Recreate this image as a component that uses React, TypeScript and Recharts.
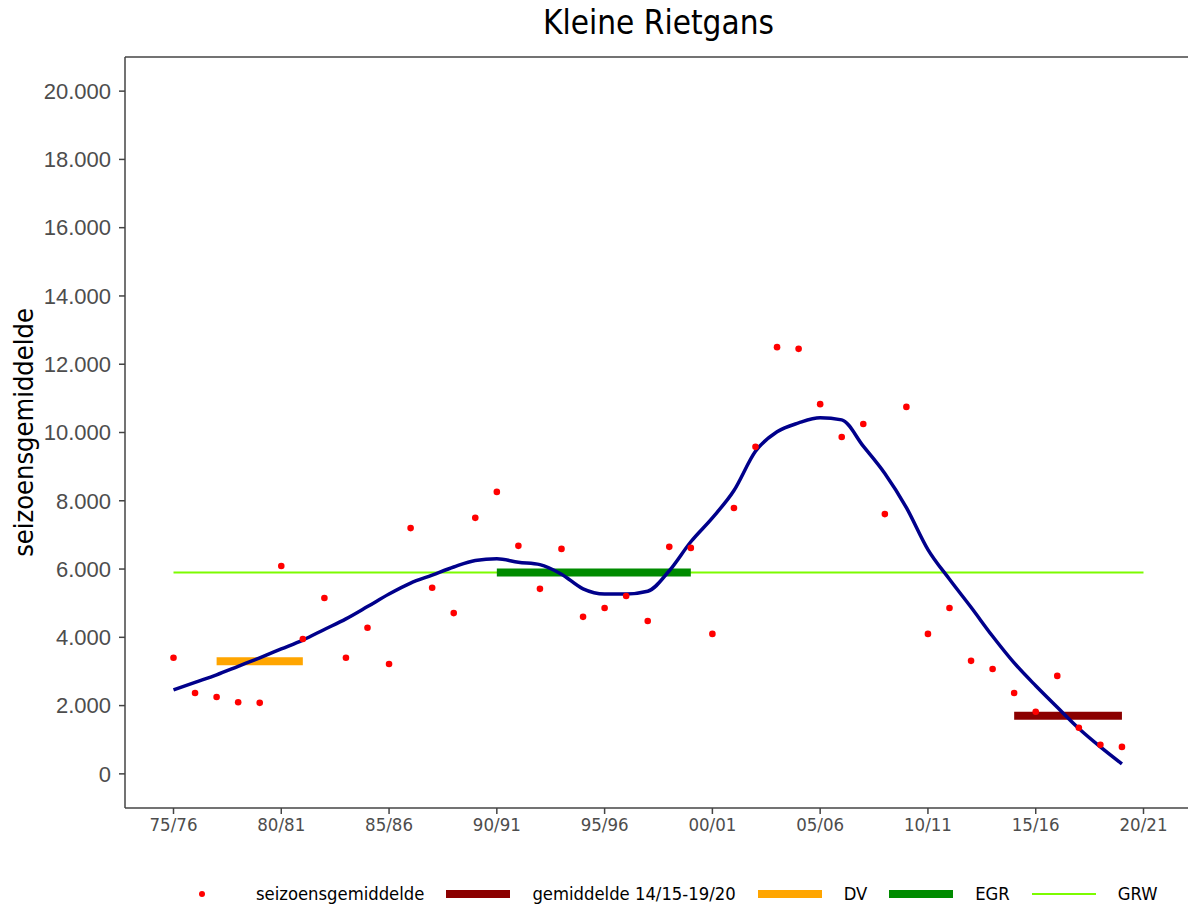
import React from "react"
import {
  ComposedChart,
  Line,
  Scatter,
  XAxis,
  YAxis,
  ReferenceLine,
} from "recharts"

// season index 0 = 75/76 ... 44 = 19/20
const seasonAvg = [
  3400, 2370, 2250, 2100, 2080, 6090, 3950, 5150, 3400, 4280,
  3220, 7200, 5450, 4710, 7500, 8260, 6680, 5420, 6590, 4600,
  4860, 5210, 4480, 6650, 6620, 4100, 7790, 9580, 12500, 12450,
  10830, 9870, 10250, 7610, 10750, 4100, 4860, 3310, 3070, 2370,
  1820, 2870, 1350, 850, 790,
]

const smoothTrend = [
  2460, 2680, 2900, 3150, 3400, 3660, 3920, 4230, 4540, 4900,
  5270, 5590, 5820, 6060, 6250, 6300, 6200, 6130, 5850, 5420,
  5270, 5270, 5350, 5950, 6800, 7500, 8300, 9450, 10020, 10280,
  10430, 10370, 9600, 8800, 7800, 6570, 5700, 4880, 4030, 3250,
  2580, 1950, 1330, 790, 290,
]

const xTickPos = [0, 5, 10, 15, 20, 25, 30, 35, 40, 45]
const xTickLabels = ["75/76", "80/81", "85/86", "90/91", "95/96", "00/01", "05/06", "10/11", "15/16", "20/21"]
const yTicks = [0, 2000, 4000, 6000, 8000, 10000, 12000, 14000, 16000, 18000, 20000]

// horizontal reference segments: [startIndex, endIndex, value]
const gemSegment = [39, 44, 1700]
const dvSegment = [2, 6, 3300]
const egrSegment = [15, 24, 5900]
const grwSegment = [0, 45, 5900]

const COLORS = {
  points: "#FF0000",
  trend: "#00008B",
  gem: "#8B0000",
  dv: "#FFA500",
  egr: "#008B00",
  grw: "#7CFC00",
}

const legendItems = [
  { label: "seizoensgemiddelde", color: COLORS.points, kind: "dot" },
  { label: "gemiddelde 14/15-19/20", color: COLORS.gem, kind: "bar" },
  { label: "DV", color: COLORS.dv, kind: "bar" },
  { label: "EGR", color: COLORS.egr, kind: "bar" },
  { label: "GRW", color: COLORS.grw, kind: "thin" },
]

const pointData = seasonAvg.map((y, i) => ({ x: i, y }))
const trendData = smoothTrend.map((y, i) => ({ x: i, y }))
const seg = (s: number[]) => [
  { x: s[0], y: s[2] },
  { x: s[1], y: s[2] },
]

const fmtThousands = (v: number) =>
  v === 0 ? "0" : `${Math.floor(v / 1000)}.${String(v % 1000).padStart(3, "0")}`

const condensed = "'DejaVu Sans Condensed', 'Liberation Sans Narrow', 'DejaVu Sans', sans-serif"

function YLabel(props: any) {
  const vb = props.viewBox || { x: 0, y: 57, width: 125, height: 751 }
  const cx = 23
  const cy = vb.y + vb.height / 2
  return (
    <text
      x={cx}
      y={cy}
      transform={`rotate(-90 ${cx} ${cy})`}
      textAnchor="middle"
      dominantBaseline="central"
      fontFamily={condensed}
      fontSize={27}
      fill="#000"
    >
      seizoensgemiddelde
    </text>
  )
}

function Dot(props: any) {
  const { cx, cy } = props
  if (cx == null || cy == null) return null
  return <circle cx={cx} cy={cy} r={3.3} fill={COLORS.points} />
}

export default function App() {
  return (
    <div
      style={{
        position: "absolute",
        left: 0,
        top: 0,
        width: 1188,
        height: 906,
        overflow: "hidden",
        background: "#fff",
      }}
    >
      <div
        style={{
          position: "absolute",
          left: 125,
          width: 1067,
          top: 3,
          textAlign: "center",
          fontFamily: condensed,
          fontSize: 33,
          color: "#000",
          lineHeight: "40px",
        }}
      >
        Kleine Rietgans
      </div>

      <ComposedChart width={1192} height={906} margin={{ top: 57, right: 0, bottom: 0, left: 0 }}>
        <XAxis
          dataKey="x"
          type="number"
          domain={[-2.25, 47.25]}
          allowDataOverflow
          ticks={xTickPos}
          tickFormatter={(v: number) => xTickLabels[xTickPos.indexOf(v)] ?? ""}
          height={98}
          tickSize={6}
          tickMargin={4}
          axisLine={{ stroke: "#444", strokeWidth: 1.5 }}
          tickLine={{ stroke: "#444", strokeWidth: 1.5 }}
          tick={{ fill: "#4D4D4D", fontSize: 18.5, fontFamily: condensed }}
        />
        <YAxis
          type="number"
          domain={[-1000, 21000]}
          allowDataOverflow
          ticks={yTicks}
          tickFormatter={fmtThousands}
          width={125}
          tickSize={6}
          tickMargin={8}
          axisLine={{ stroke: "#444", strokeWidth: 1.5 }}
          tickLine={{ stroke: "#444", strokeWidth: 1.5 }}
          tick={{ fill: "#4D4D4D", fontSize: 22, fontFamily: "'Liberation Sans', Arial, sans-serif" }}
          label={<YLabel />}
        />
        <ReferenceLine y={21000} stroke="#444" strokeWidth={1.5} ifOverflow="visible" />

        <Line
          data={seg(grwSegment)}
          dataKey="y"
          type="linear"
          stroke={COLORS.grw}
          strokeWidth={2}
          dot={false}
          activeDot={false}
          isAnimationActive={false}
        />
        <Line
          data={seg(dvSegment)}
          dataKey="y"
          type="linear"
          stroke={COLORS.dv}
          strokeWidth={8}
          dot={false}
          activeDot={false}
          isAnimationActive={false}
        />
        <Line
          data={seg(egrSegment)}
          dataKey="y"
          type="linear"
          stroke={COLORS.egr}
          strokeWidth={8}
          dot={false}
          activeDot={false}
          isAnimationActive={false}
        />
        <Line
          data={seg(gemSegment)}
          dataKey="y"
          type="linear"
          stroke={COLORS.gem}
          strokeWidth={8}
          dot={false}
          activeDot={false}
          isAnimationActive={false}
        />
        <Line
          data={trendData}
          dataKey="y"
          type="monotone"
          stroke={COLORS.trend}
          strokeWidth={3.5}
          dot={false}
          activeDot={false}
          isAnimationActive={false}
        />
        <Scatter data={pointData} dataKey="y" shape={<Dot />} isAnimationActive={false} />
      </ComposedChart>

      <div
        style={{
          position: "absolute",
          left: 170,
          top: 884,
          display: "flex",
          alignItems: "center",
          fontFamily: condensed,
          fontSize: 18.3,
          color: "#000",
          lineHeight: "20px",
          whiteSpace: "nowrap",
        }}
      >
        {legendItems.map((it) => (
          <div key={it.label} style={{ display: "flex", alignItems: "center", marginRight: 22 }}>
            <div style={{ width: 64, height: 20, display: "flex", alignItems: "center", justifyContent: "center" }}>
              {it.kind === "dot" ? (
                <div style={{ width: 6, height: 6, borderRadius: 3, background: it.color }} />
              ) : (
                <div style={{ width: 64, height: it.kind === "thin" ? 2 : 8, background: it.color }} />
              )}
            </div>
            <span style={{ marginLeft: 22 }}>{it.label}</span>
          </div>
        ))}
      </div>
    </div>
  )
}
